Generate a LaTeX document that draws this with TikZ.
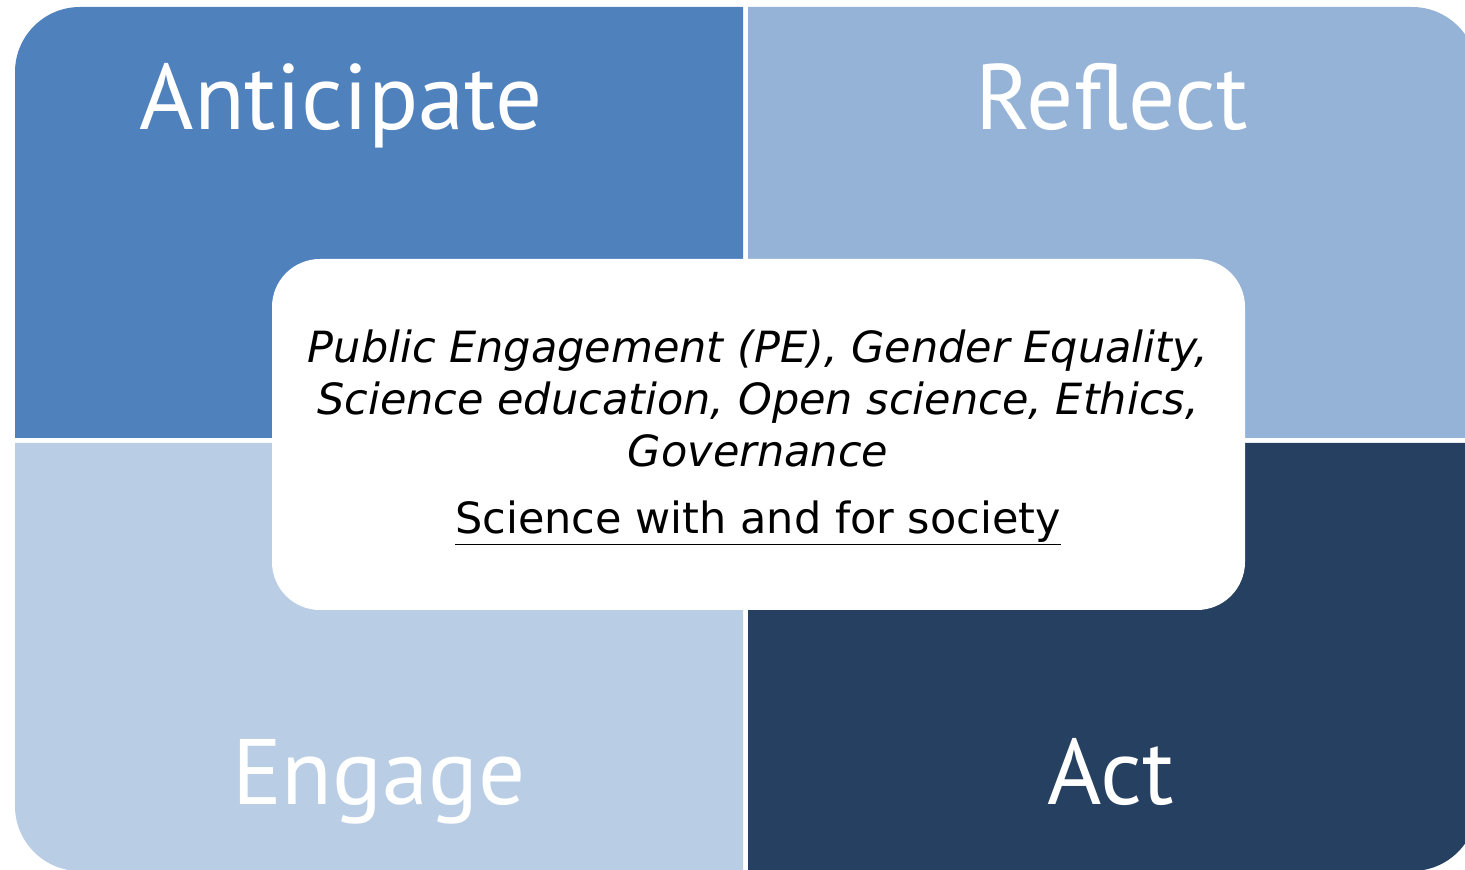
\documentclass[tikz,border=0pt]{standalone}
\usepackage{fontspec}
\setmainfont{PT Sans}
\newfontfamily\corefont{DejaVu Sans}
\usetikzlibrary{positioning}

\definecolor{antblue}{RGB}{79,129,189}
\definecolor{refblue}{RGB}{149,179,215}
\definecolor{engblue}{RGB}{185,205,229}
\definecolor{actblue}{RGB}{37,64,97}

\begin{document}
\begin{tikzpicture}[x=1pt, y=1pt,
    heading/.style={text=white, anchor=base, inner sep=0pt,
        font=\fontsize{93}{100}\selectfont},
    topics/.style={text=black, align=center, inner sep=0pt,
        font=\corefont\fontsize{43}{52}\selectfont\itshape},
    motto/.style={text=black, anchor=base, inner sep=0pt,
        font=\corefont\fontsize{43}{50}\selectfont}]
    \def\r{65}

    \clip (0,0) rectangle (1465,870);

    % the four quarters
    \fill [antblue] (743,432) -- (15,432) -- (15,863-\r)
        arc [start angle=180, end angle=90, radius=\r] -- (743,863) -- cycle;
    \fill [refblue] (748,432) -- (748,863) -- (1477-\r,863)
        arc [start angle=90, end angle=0, radius=\r] -- (1477,432) -- cycle;
    \fill [engblue] (743,427) -- (15,427) -- (15,-1+\r)
        arc [start angle=180, end angle=270, radius=\r] -- (743,-1) -- cycle;
    \fill [actblue] (748,427) -- (748,-1) -- (1477-\r,-1)
        arc [start angle=270, end angle=360, radius=\r] -- (1477,427) -- cycle;

    \node[heading] (anticipate) at (341,740) {Anticipate};
    \node[heading] (reflect)    at (1112,740) {Reflect};
    \node[heading] (engage)     at (379,65)  {Engage};
    \node[heading] (act)        at (1111,65) {Act};

    % the box in the middle
    \node[fill=white, rounded corners=48, minimum width=973, minimum height=351,
        inner sep=0pt] (core) at (758.5,435.5) {};

    \node[topics, anchor=north] (themes) at (758,540)
        {Public Engagement (PE), Gender Equality,\\
         Science education, Open science, Ethics,\\
         Governance};
    \node[motto] (sws) at (758,336) {\underline{Science with and for society}};
\end{tikzpicture}
\end{document}
